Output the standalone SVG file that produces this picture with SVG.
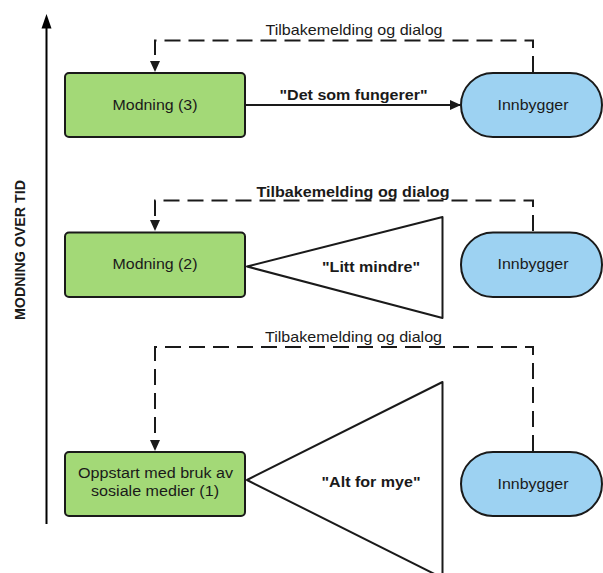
<svg xmlns="http://www.w3.org/2000/svg" width="603" height="573" viewBox="0 0 603 573">
<style>
.box{fill:#a3d977;stroke:#1a1a1a;stroke-width:2}
.pill{fill:#9dd2f2;stroke:#1a1a1a;stroke-width:2}
.tri{fill:#ffffff;stroke:#1a1a1a;stroke-width:2;stroke-linejoin:round}
.dash{fill:none;stroke:#1a1a1a;stroke-width:2;stroke-dasharray:16 8}
.solid{fill:none;stroke:#1a1a1a;stroke-width:2}
.t{font-family:"Liberation Sans",Arial,sans-serif;font-size:14.5px;fill:#1a1a1a;text-anchor:middle}
.n{font-size:15.5px}
.b{font-weight:bold}
</style>
<defs>
<marker id="ah" markerWidth="12" markerHeight="12" refX="10" refY="5" orient="auto" markerUnits="userSpaceOnUse">
<path d="M0,0 L11,5 L0,10 Z" fill="#1a1a1a"/>
</marker>
</defs>

<g id="axis">
<line x1="46.5" y1="26" x2="46.5" y2="524" stroke="#000" stroke-width="2"/>
<polygon points="46.5,14 41.5,28.5 51.5,28.5" fill="#000"/>
<text class="t b" x="25" y="250" transform="rotate(-90 25 250)" textLength="140" lengthAdjust="spacingAndGlyphs" style="font-size:14px">MODNING OVER TID</text>
</g>

<g id="connectors">
<path class="dash" d="M533,72 L533,40.5 L155,40.5 L155,62"/>
<polygon points="150,61 160,61 155,72" fill="#1a1a1a"/>
<path class="dash" d="M533,231 L533,200.5 L155,200.5 L155,221"/>
<polygon points="150,220 160,220 155,231" fill="#1a1a1a"/>
<path class="dash" d="M533,451 L533,347 L155,347 L155,441"/>
<polygon points="150,440 160,440 155,451" fill="#1a1a1a"/>
<line class="solid" x1="245" y1="105" x2="460" y2="105" marker-end="url(#ah)"/>
<text class="t" x="354" y="35" textLength="177" lengthAdjust="spacingAndGlyphs">Tilbakemelding og dialog</text>
<text class="t b" x="353" y="196.5" textLength="193" lengthAdjust="spacingAndGlyphs">Tilbakemelding og dialog</text>
<text class="t" x="353.5" y="341.5" textLength="177" lengthAdjust="spacingAndGlyphs">Tilbakemelding og dialog</text>
<text class="t b" x="353.5" y="100" textLength="148" lengthAdjust="spacingAndGlyphs">"Det som fungerer"</text>
</g>

<g id="modning3">
<rect class="box" x="65" y="73" width="180" height="64" rx="4"/>
<text class="t n" x="155" y="109.5" textLength="85" lengthAdjust="spacingAndGlyphs">Modning (3)</text>
</g>
<g id="innbygger3">
<rect class="pill" x="461" y="73" width="141" height="64" rx="32"/>
<text class="t n" x="533" y="109.5" textLength="71" lengthAdjust="spacingAndGlyphs">Innbygger</text>
</g>

<g id="modning2">
<rect class="box" x="65" y="232.5" width="180" height="64.5" rx="4"/>
<text class="t n" x="155" y="269" textLength="85" lengthAdjust="spacingAndGlyphs">Modning (2)</text>
</g>
<g id="litt-mindre">
<path class="tri" d="M247,266.5 L442.5,217 L442.5,318 Z"/>
<text class="t b" x="371" y="272" textLength="98" lengthAdjust="spacingAndGlyphs">"Litt mindre"</text>
</g>
<g id="innbygger2">
<rect class="pill" x="461" y="232.5" width="141" height="64.5" rx="32"/>
<text class="t n" x="533" y="269" textLength="71" lengthAdjust="spacingAndGlyphs">Innbygger</text>
</g>

<g id="oppstart">
<rect class="box" x="65" y="452" width="180" height="64" rx="4"/>
<text class="t n" x="155.5" y="478" textLength="155" lengthAdjust="spacingAndGlyphs">Oppstart med bruk av</text>
<text class="t n" x="155" y="495.5" textLength="128" lengthAdjust="spacingAndGlyphs">sosiale medier (1)</text>
</g>
<g id="alt-for-mye">
<path class="tri" d="M247,480 L442.5,382 L442.5,578 Z"/>
<text class="t b" x="371" y="487" textLength="99" lengthAdjust="spacingAndGlyphs">"Alt for mye"</text>
</g>
<g id="innbygger1">
<rect class="pill" x="461" y="452" width="141" height="64" rx="32"/>
<text class="t n" x="533" y="488.5" textLength="71" lengthAdjust="spacingAndGlyphs">Innbygger</text>
</g>
</svg>
